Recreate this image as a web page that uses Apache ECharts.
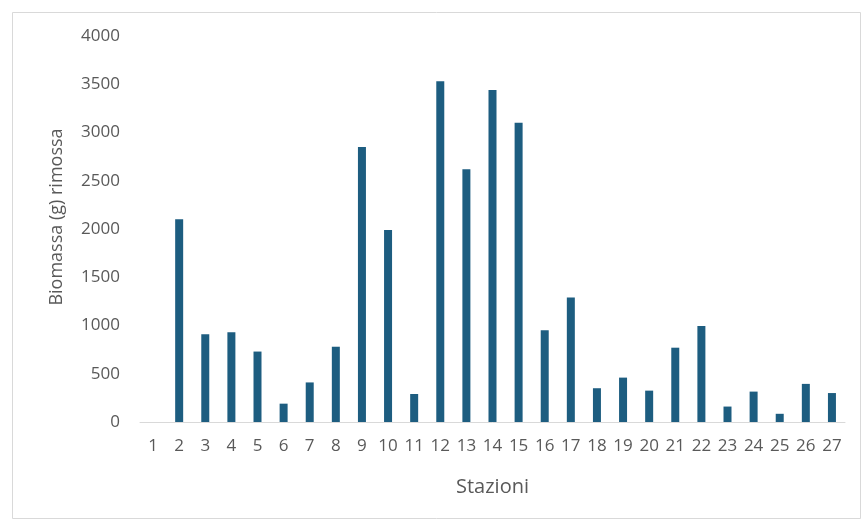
<!DOCTYPE html>
<html>
<head>
<meta charset="utf-8">
<script src="https://cdn.jsdelivr.net/npm/echarts@6/dist/echarts.min.js"></script>
<style>html,body{margin:0;padding:0;background:#fff;}#c{width:863px;height:521px;}</style>
</head>
<body>
<div id="c"></div>
<script>
const categories = ['1','2','3','4','5','6','7','8','9','10','11','12','13','14','15','16','17','18','19','20','21','22','23','24','25','26','27'];
const biomassa = [0, 2100, 910, 930, 730, 190, 410, 780, 2850, 1990, 290, 3530, 2620, 3440, 3100, 950, 1290, 350, 460, 325, 770, 995, 160, 315, 85, 395, 300];
const yTicks = [0, 500, 1000, 1500, 2000, 2500, 3000, 3500, 4000];

const chart = echarts.init(document.getElementById('c'), null, {renderer: 'canvas'});
const font = '"Open Sans", Lato, sans-serif';
chart.setOption({
  animation: false,
  backgroundColor: '#ffffff',
  graphic: [{
    type: 'rect', left: 10, top: 10, shape: {width: 848, height: 506},
    style: {fill: 'none', stroke: '#d9d9d9', lineWidth: 1}, silent: true
  }],
  grid: {left: 140, right: 18, top: 36, bottom: 99, containLabel: false},
  xAxis: {
    type: 'category', data: categories,
    name: 'Stazioni', nameLocation: 'middle', nameGap: 55,
    nameTextStyle: {color: '#595959', fontSize: 20, fontFamily: font},
    axisLine: {lineStyle: {color: '#d9d9d9', width: 1}},
    axisTick: {show: false},
    axisLabel: {color: '#595959', fontSize: 17, fontFamily: font, margin: 16, interval: 0}
  },
  yAxis: {
    type: 'value', min: yTicks[0], max: yTicks[yTicks.length - 1], interval: 500,
    name: 'Biomassa (g) rimossa', nameLocation: 'middle', nameGap: 74, nameRotate: 90,
    nameTextStyle: {color: '#595959', fontSize: 18, fontFamily: font, padding: [0, 0, 0, 24]},
    axisLine: {show: false}, axisTick: {show: false},
    splitLine: {show: false},
    axisLabel: {color: '#595959', fontSize: 17, fontFamily: font, margin: 20, formatter: v => String(v)}
  },
  series: [{
    type: 'bar', data: biomassa, barWidth: 8,
    itemStyle: {color: '#1d5d80'}
  }]
});
</script>
</body>
</html>
